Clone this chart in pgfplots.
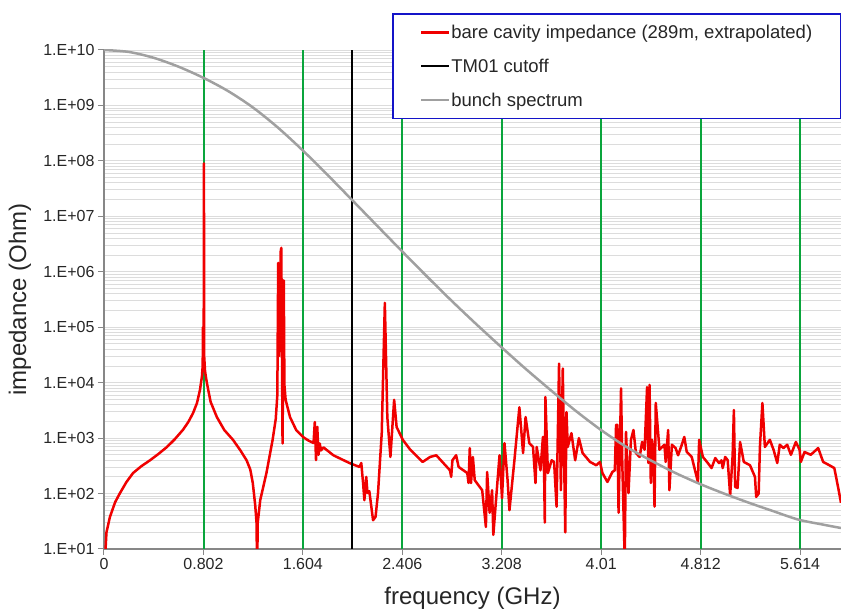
\documentclass[border=0pt]{standalone}
\usepackage{pgfplots}
\pgfplotsset{compat=1.18}
\usepackage{fontspec}
\setmainfont{Liberation Sans}
\definecolor{cred}{RGB}{240,0,0}
\definecolor{cgreen}{RGB}{10,165,60}
\definecolor{cbunch}{RGB}{160,160,160}
\definecolor{cgrid}{RGB}{220,220,220}
\definecolor{caxis}{RGB}{135,135,135}
\definecolor{legblue}{RGB}{20,20,200}
\begin{document}
\begin{tikzpicture}
\begin{axis}[name=ax, at={(0,0)}, anchor=south west,
  scale only axis, width=737pt, height=499pt,
  ymode=log, xmin=0, xmax=5.944, ymin=10, ymax=1e10,
  axis x line=bottom, axis y line=left,
  axis line style={-, draw=caxis, line width=1.5pt},
  tick align=outside, major tick length=6pt, minor tick length=0pt,
  tick style={caxis, line width=1pt},
  xtick={0,0.802,1.604,2.406,3.208,4.01,4.812,5.614},
  xticklabels={0,0.802,1.604,2.406,3.208,4.01,4.812,5.614},
  ytick={1e1,1e2,1e3,1e4,1e5,1e6,1e7,1e8,1e9,1e10},
  yticklabels={1.E+01,1.E+02,1.E+03,1.E+04,1.E+05,1.E+06,1.E+07,1.E+08,1.E+09,1.E+10},
  tick label style={font=\fontsize{16}{19}\selectfont, text=black!85},
  ymajorgrids, yminorgrids,
  major y grid style={cgrid, line width=0.9pt},
  minor y grid style={cgrid, line width=0.9pt},
  xlabel={frequency (GHz)}, ylabel={impedance (Ohm)},
  label style={font=\fontsize{24}{28}\selectfont, text=black!85},
  xlabel style={at={(axis description cs:0.5,-0.098)}, anchor=center},
  ylabel style={at={(axis description cs:-0.114,0.5)}, anchor=center},
  legend cell align=left,
  legend image code/.code={\draw[#1, line width=2.5pt] (0pt,0pt) -- (28pt,0pt);},
  legend style={at={(1,1.074)}, anchor=north east, draw=legblue, line width=1.5pt, fill=white,
    font=\fontsize{18.5}{22}\selectfont, row sep=15pt, inner xsep=27pt, inner ysep=9pt,
    nodes={inner xsep=1pt, text=black!85}},
]
% green vertical grid lines at the major x ticks
\addplot[cgreen, line width=2pt, forget plot] coordinates {(0.8025,10)(0.8025,1e10)};
\addplot[cgreen, line width=2pt, forget plot] coordinates {(1.604,10)(1.604,1e10)};
\addplot[cgreen, line width=2pt, forget plot] coordinates {(2.406,10)(2.406,1e10)};
\addplot[cgreen, line width=2pt, forget plot] coordinates {(3.208,10)(3.208,1e10)};
\addplot[cgreen, line width=2pt, forget plot] coordinates {(4.01,10)(4.01,1e10)};
\addplot[cgreen, line width=2pt, forget plot] coordinates {(4.812,10)(4.812,1e10)};
\addplot[cgreen, line width=2pt, forget plot] coordinates {(5.614,10)(5.614,1e10)};
\addplot[cred, line width=2.5pt, line join=round] coordinates {
(0.005,5)(0.02,20)(0.048,38)(0.09,70)(0.129,102)(0.18,160)(0.234,234)(0.30,310)(0.371,398)
(0.44,520)(0.508,692)(0.57,950)(0.637,1413)(0.68,1950)(0.718,2818)(0.75,4300)(0.774,7400)
(0.790,1.3e4)(0.796,2e4)(0.798,1e5)(0.800,2.2e4)(0.804,3e4)(0.806,9e7)(0.808,3e4)(0.815,1.6e4)
(0.83,9.8e3)(0.86,4.5e3)(0.91,2.4e3)(0.97,1.4e3)(1.04,933)(1.10,600)(1.15,398)(1.18,270)
(1.20,155)(1.22,60)(1.23,30)(1.235,4)(1.24,30)(1.26,76)(1.31,234)(1.36,933)(1.385,2.2e3)
(1.398,6e3)(1.405,1.45e6)(1.410,3e4)(1.418,8e4)(1.425,2.3e6)(1.430,2.7e6)(1.436,2e4)(1.440,800)
(1.444,1.5e4)(1.450,7e5)(1.455,9e3)(1.465,4.9e3)(1.50,2.4e3)(1.55,1.4e3)(1.605,1.05e3)(1.65,900)
(1.69,813)(1.70,1.95e3)(1.71,400)(1.72,1.6e3)(1.73,500)(1.74,800)(1.75,600)(1.77,680)(1.85,490)
(1.98,355)(2.06,302)(2.075,355)(2.09,150)(2.10,76)(2.115,200)(2.125,102)(2.14,110)(2.17,33)
(2.19,38)(2.21,102)(2.24,1.23e3)(2.265,2.75e5)(2.285,2.4e3)(2.31,457)(2.34,4.9e3)(2.36,1.58e3)
(2.41,933)(2.47,617)(2.57,372)(2.63,457)(2.68,490)(2.79,263)(2.80,200)(2.81,398)(2.84,490)
(2.86,302)(2.93,234)(2.94,155)(2.95,661)(2.96,155)(2.975,457)(2.99,174)(3.05,115)(3.08,25)
(3.09,245)(3.11,45)(3.13,115)(3.14,18)(3.17,132)(3.19,490)(3.21,83)(3.23,813)(3.255,174)
(3.27,50)(3.31,398)(3.35,3.6e3)(3.38,537)(3.40,2.4e3)(3.43,813)(3.46,692)(3.48,155)(3.49,692)
(3.52,263)(3.54,1.05e3)(3.55,200)(3.555,30)(3.56,5.5e3)(3.58,234)(3.61,398)(3.63,372)(3.65,58)
(3.67,2.2e4)(3.685,115)(3.70,1.8e4)(3.72,20)(3.73,2.95e3)(3.74,692)(3.77,1.23e3)(3.80,398)
(3.83,1e3)(3.86,537)(3.92,372)(3.97,324)(4.00,372)(4.02,234)(4.06,162)(4.10,245)(4.12,263)
(4.13,1.74e3)(4.14,1.74e3)(4.15,45)(4.17,7.9e3)(4.18,355)(4.20,6)(4.21,1.29e3)(4.23,102)
(4.25,933)(4.27,1.4e3)(4.29,537)(4.32,457)(4.34,851)(4.36,617)(4.38,8.3e3)(4.39,355)(4.40,9.1e3)
(4.41,155)(4.42,933)(4.43,631)(4.44,58)(4.45,4.3e3)(4.48,617)(4.52,759)(4.53,372)(4.55,1.4e3)
(4.56,115)(4.58,759)(4.61,661)(4.63,490)(4.66,759)(4.68,1.05e3)(4.70,562)(4.74,457)(4.79,162)
(4.80,933)(4.83,457)(4.87,355)(4.90,288)(4.93,437)(4.96,355)(4.98,398)(4.99,288)(5.01,457)
(5.03,400)(5.05,93)(5.07,490)(5.08,3.2e3)(5.09,132)(5.11,126)(5.13,851)(5.16,372)(5.21,324)
(5.25,200)(5.26,87)(5.28,100)(5.29,692)(5.31,4.3e3)(5.33,692)(5.37,933)(5.40,617)(5.43,355)
(5.45,759)(5.48,661)(5.51,759)(5.54,500)(5.58,851)(5.61,617)(5.62,372)(5.65,562)(5.70,500)
(5.76,661)(5.80,372)(5.85,324)(5.89,288)(5.92,132)(5.944,68)
};
\addlegendentry{bare cavity impedance (289m, extrapolated)}
\addplot[black, line width=2.5pt] coordinates {(2.0,10)(2.0,1e10)};
\addlegendentry{TM01 cutoff}
\addplot[cbunch, line width=2.5pt, smooth] coordinates {
(0,1e10)(0.2,9.23e9)(0.4,7.24e9)(0.6,5.01e9)(0.8,3.16e9)(1.0,1.82e9)(1.2,9.23e8)(1.4,4.03e8)
(1.6,1.567e8)(1.8,5.66e7)(2.0,1.977e7)(2.2,6.86e6)(2.4,2.39e6)(2.6,8.43e5)(2.8,3.05e5)(3.0,1.148e5)
(3.2,4.47e4)(3.4,1.78e4)(3.6,7.41e3)(3.8,3.16e3)(4.0,1.445e3)(4.2,724)(4.4,407)(4.6,240)
(4.8,151)(5.0,100)(5.2,68.4)(5.4,47.9)(5.6,33.9)(5.8,27.5)(5.944,23.9)
};
\addlegendentry{bunch spectrum}
\end{axis}
\pgfresetboundingbox
\path (ax.south west) ++(-104pt,-65pt) rectangle ([xshift=0pt,yshift=50pt]ax.north east);
\end{tikzpicture}
\end{document}
